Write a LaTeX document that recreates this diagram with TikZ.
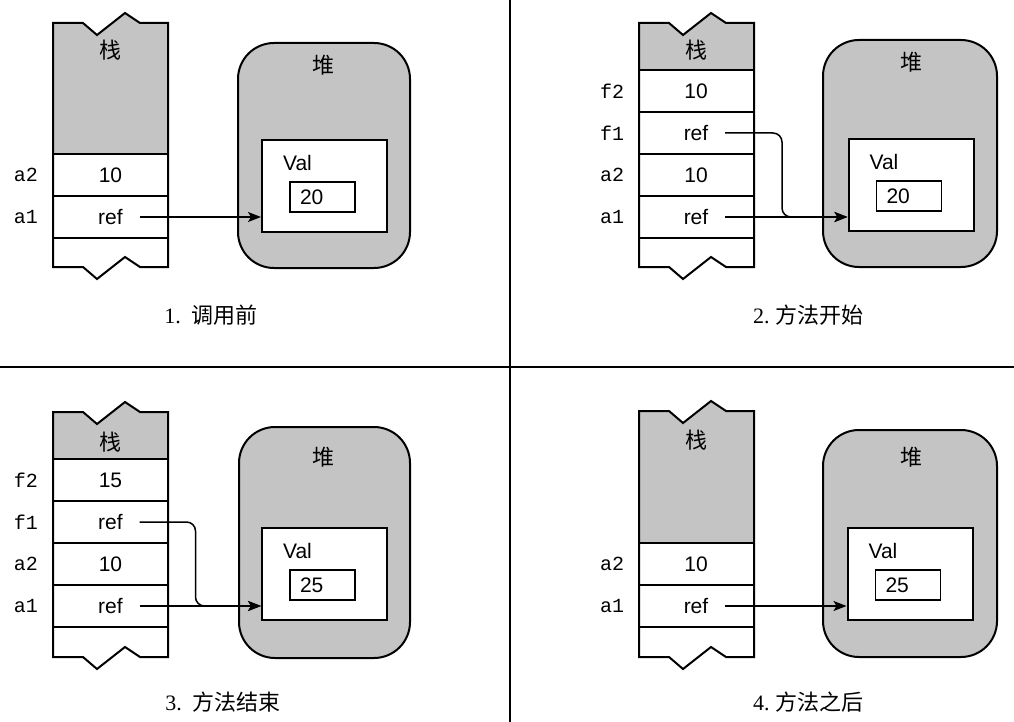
\documentclass[tikz,border=0pt]{standalone}
\usepackage{fontspec}
\setmainfont{Liberation Serif}
\setsansfont{Liberation Sans}
\setmonofont{Liberation Mono}
\newfontfamily\cjk{Noto Sans CJK SC}
\usepackage{tikz}
\usetikzlibrary{positioning}
\usetikzlibrary{calc}
\usetikzlibrary{arrows.meta}

\tikzset{
    speck/.style={fill=black!23},
    cell/.style={draw, line width=1.4pt, minimum width=115pt, minimum height=42pt, inner sep=0pt, font=\sffamily\fontsize{21}{24}\selectfont},
    slot/.style={font=\ttfamily\fontsize{20}{22}\selectfont},
    heap/.style={draw, line width=2pt, rounded corners=36pt, speck},
    valbox/.style={draw, line width=2pt, fill=white, minimum width=125pt, minimum height=92pt},
    numbox/.style={draw, line width=1.8pt, fill=white, text width=45pt, inner xsep=10pt, inner ysep=0pt, minimum height=30pt, align=left, font=\sffamily\fontsize{21}{24}\selectfont},
    lbl/.style={font=\sffamily\fontsize{21}{24}\selectfont},
    zh/.style={font=\cjk\fontsize{22}{24}\selectfont},
    caption/.style={font=\fontsize{22}{26}\selectfont},
    ptr/.style={-{Stealth[length=13pt,width=10pt,inset=3pt]}, line width=1.5pt},
    rule/.style={line width=1.5pt}
}

% torn stack strip: left, top, end of shading, bottom
\newcommand{\stackframe}[4]{
    \fill[speck] (#1,#2) -- (#1+30,#2) -- (#1+44,#2+12) -- (#1+72,#2-10) -- (#1+87,#2) -- (#1+115,#2) -- (#1+115,#3) -- (#1,#3) -- cycle;
    \draw[line width=2pt] (#1,#4) -- (#1,#2) -- (#1+30,#2) -- (#1+44,#2+12) -- (#1+72,#2-10) -- (#1+87,#2) -- (#1+115,#2)
        -- (#1+115,#4) -- (#1+87,#4) -- (#1+72,#4-10) -- (#1+44,#4+12) -- (#1+30,#4) -- cycle;
    \draw[line width=2.2pt] (#1,#3) -- (#1+115,#3);
}

\begin{document}
\begin{tikzpicture}[x=1pt,y=-1pt]
    \useasboundingbox (0,0) rectangle (1014,722);

    % 1. before the call
    \node[heap, minimum width=172pt, minimum height=225pt] (h1) at (324,155.5) {};
    \node[zh] (h1t) at (323,65) {堆};
    \node[valbox] (v1) at (324.5,186) {};
    \node[lbl] (v1t) at ([shift={(-27,-23)}]v1.center) {Val};
    \node[numbox] (b1) at ([shift={(-2,11)}]v1.center) {20};

    \node[cell] (s1a2) at (110.5,175) {10};
    \node[cell] (s1a1) at (110.5,217) {ref};
    \stackframe{53}{23}{154}{267}
    \node[zh] (s1t) at (110.5,50) {栈};
    \node[slot] (n1a2) at (26,175) {a2};
    \node[slot] (n1a1) at (26,217) {a1};

    \draw[ptr] ([xshift=29pt]s1a1.center) -- (s1a1 -| v1.west);
    \node[caption] (c1) at (211,315) {1.~~{\cjk 调用前}};

    % 2. method starts
    \node[heap, minimum width=174pt, minimum height=227pt] (h2) at (910,153.5) {};
    \node[zh] (h2t) at (911,62) {堆};
    \node[valbox] (v2) at (911,185) {};
    \node[lbl] (v2t) at ([shift={(-27,-23)}]v2.center) {Val};
    \node[numbox] (b2) at ([shift={(-2,11)}]v2.center) {20};

    \node[cell] (s2f2) at (696,91) {10};
    \node[cell] (s2f1) at (696,133) {ref};
    \node[cell] (s2a2) at (696,175) {10};
    \node[cell] (s2a1) at (696,217) {ref};
    \stackframe{639}{23}{70}{267}
    \node[zh] (s2t) at (696,50) {栈};
    \node[slot] (n2f2) at (612,91) {f2};
    \node[slot] (n2f1) at (612,133) {f1};
    \node[slot] (n2a2) at (612,175) {a2};
    \node[slot] (n2a1) at (612,217) {a1};

    \coordinate (k2) at ([xshift=86pt]s2a1.center);
    \draw[ptr] ([xshift=29pt]s2a1.center) -- (s2a1 -| v2.west);
    \draw[ptr, rounded corners=9pt] ([xshift=29pt]s2f1.center) -| (k2) -- (k2 -| v2.west);
    \node[caption] (c2) at (808,315) {2.~{\cjk 方法开始}};

    % 3. method ends
    \node[heap, minimum width=171pt, minimum height=231pt] (h3) at (324.5,542.5) {};
    \node[zh] (h3t) at (323,457) {堆};
    \node[valbox] (v3) at (324.5,574) {};
    \node[lbl] (v3t) at ([shift={(-27,-23)}]v3.center) {Val};
    \node[numbox] (b3) at ([shift={(-2,11)}]v3.center) {25};

    \node[cell] (s3f2) at (110.5,480) {15};
    \node[cell] (s3f1) at (110.5,522) {ref};
    \node[cell] (s3a2) at (110.5,564) {10};
    \node[cell] (s3a1) at (110.5,606) {ref};
    \stackframe{53}{412}{459}{657}
    \node[zh] (s3t) at (110.5,442) {栈};
    \node[slot] (n3f2) at (26,480) {f2};
    \node[slot] (n3f1) at (26,522) {f1};
    \node[slot] (n3a2) at (26,564) {a2};
    \node[slot] (n3a1) at (26,606) {a1};

    \coordinate (k3) at ([xshift=85pt]s3a1.center);
    \draw[ptr] ([xshift=29pt]s3a1.center) -- (s3a1 -| v3.west);
    \draw[ptr, rounded corners=9pt] ([xshift=29pt]s3f1.center) -| (k3) -- (k3 -| v3.west);
    \node[caption] (c3) at (223,702) {3.~~{\cjk 方法结束}};

    % 4. after the method
    \node[heap, minimum width=174pt, minimum height=227pt] (h4) at (910,543.5) {};
    \node[zh] (h4t) at (911,457) {堆};
    \node[valbox] (v4) at (910,574) {};
    \node[lbl] (v4t) at ([shift={(-27,-23)}]v4.center) {Val};
    \node[numbox] (b4) at ([shift={(-2,11)}]v4.center) {25};

    \node[cell] (s4a2) at (696,564) {10};
    \node[cell] (s4a1) at (696,606) {ref};
    \stackframe{639}{411}{543}{657}
    \node[zh] (s4t) at (696,440) {栈};
    \node[slot] (n4a2) at (612,564) {a2};
    \node[slot] (n4a1) at (612,606) {a1};

    \draw[ptr] ([xshift=29pt]s4a1.center) -- (s4a1 -| v4.west);
    \node[caption] (c4) at (808,702) {4.~{\cjk 方法之后}};

    % dividers
    \draw[rule] (510,0) -- (510,722);
    \draw[rule] (0,367) -- (1014,367);
\end{tikzpicture}
\end{document}
